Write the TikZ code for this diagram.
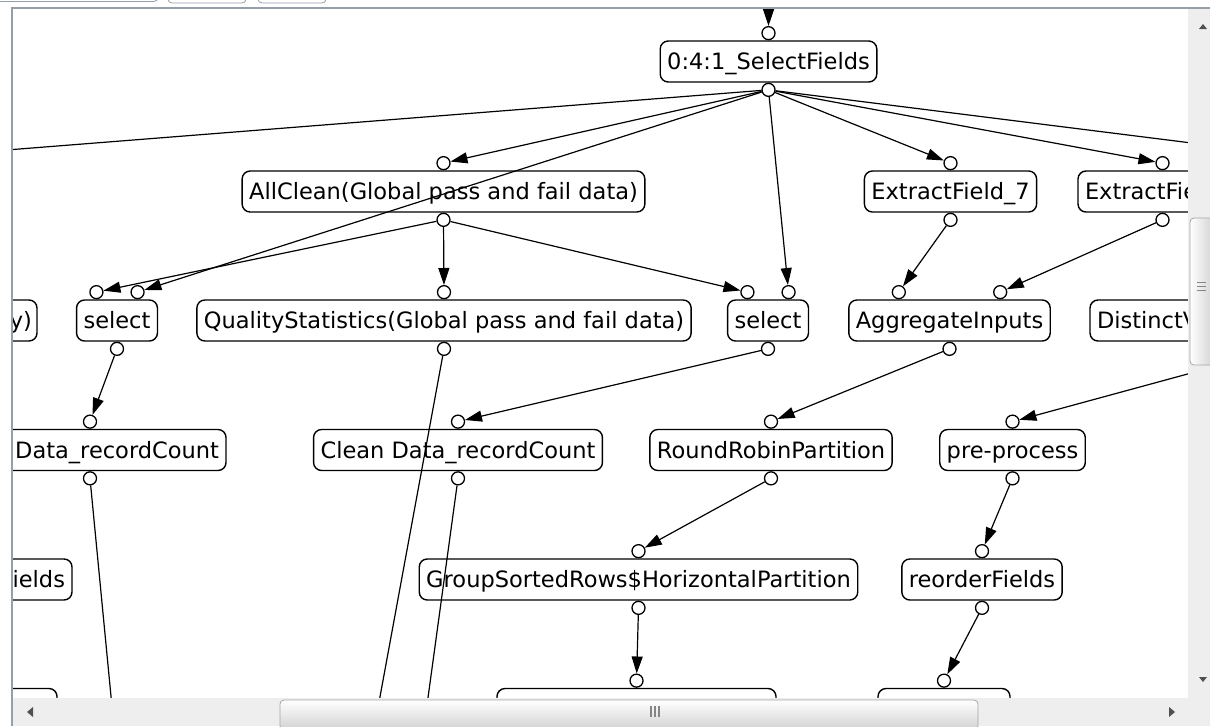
\documentclass[tikz,border=0pt]{standalone}
\usepackage{fontspec}
\setmainfont{DejaVu Sans}
\usetikzlibrary{calc,arrows.meta}

\definecolor{paneframe}{RGB}{150,158,168}
\definecolor{scrolltrack}{RGB}{238,238,238}
\definecolor{thumbline}{RGB}{165,165,165}
\definecolor{scrollarrow}{RGB}{80,80,80}

\tikzset{
	box/.style={draw, rounded corners=4bp, line width=0.7bp, fill=white, minimum height=20.5bp, inner xsep=3.5bp, inner ysep=0pt, text height=8.25bp, text depth=0pt, font=\fontsize{11.3}{13}\selectfont},
	port/.style={draw, circle, fill=white, line width=0.65bp, inner sep=0pt, minimum size=6.5bp},
	flow/.style={line width=0.6bp, -{Triangle[length=8.5bp,width=5.5bp]}}
}

\begin{document}
\begin{tikzpicture}[x=0.5bp, y=-0.5bp]
			%%%%% START %%%%%
			\useasboundingbox (0,0) rectangle (1210,726);
			\clip (0,0) rectangle (1210,726);
			\fill[white] (0,0) rectangle (1210,726);
			
			% toolbar bits above the pane
			\draw[paneframe, rounded corners=2bp] (-5,-20) rectangle (158,1.5);
			\draw[paneframe, rounded corners=2bp] (168,-20) rectangle (246,3);
			\draw[paneframe, rounded corners=2bp] (258,-20) rectangle (326,3);
			
			\begin{scope}
			\clip (12,8) rectangle (1188,698);
			
			% row 1
			\node[box] (sel) at (768.5,61.5) {0:4:1\_SelectFields};
			
			% row 2
			\node[box] (allc) at (443.5,191.5) {AllClean(Global pass and fail data)};
			\node[box] (ext7) at (950.5,191.5) {ExtractField\_7};
			\node[box, text width=77.5bp, align=left] (extb) at (1162.5,191.5) {ExtractFie};
			
			% row 3
			\node[box, text width=95bp, inner xsep=2.5bp, align=right] (keyb) at (-63,320.5) {ey)};
			\node[box] (selA) at (117,320.5) {select};
			\node[box] (qual) at (444,320.5) {QualityStatistics(Global pass and fail data)};
			\node[box] (selB) at (768,320.5) {select};
			\node[box] (aggr) at (949.5,320.5) {AggregateInputs};
			\node[box, text width=183bp, align=left] (dist) at (1280,320.5) {DistinctV};
			
			% row 4
			\node[box, text width=129bp, align=right] (rcA) at (90,450) {Data\_recordCount};
			\node[box] (rcB) at (458,450) {Clean Data\_recordCount};
			\node[box] (rrp) at (771,450) {RoundRobinPartition};
			\node[box] (prep) at (1012.5,450) {pre-process};
			
			% row 5
			\node[box, text width=93bp, align=right] (fldA) at (-28,579.5) {ields};
			\node[box] (gsr) at (638.5,579.5) {GroupSortedRows\$HorizontalPartition};
			\node[box] (reord) at (982,579.5) {reorderFields};
			
			% row 6
			\node[box, minimum width=100bp] (botA) at (-43,709) {};
			\node[box, minimum width=139.5bp] (botB) at (636.5,709) {};
			\node[box, minimum width=66bp] (botC) at (944,709) {};
			
			% ports
			\foreach \n in {sel,allc,ext7,extb,qual,rcA,rcB,rrp,prep,gsr,reord,dist} {
				\node[port, anchor=south] (\n-in) at (\n.north) {};
				\node[port, anchor=north] (\n-out) at (\n.south) {};
			}
			\foreach \n in {selA,selB,aggr} {
				\node[port, anchor=south] (\n-in1) at ($(\n.north west)!0.25!(\n.north east)$) {};
				\node[port, anchor=south] (\n-in2) at ($(\n.north west)!0.75!(\n.north east)$) {};
				\node[port, anchor=north] (\n-out) at (\n.south) {};
			}
			\foreach \n in {botB,botC}
				\node[port, anchor=south] (\n-in) at (\n.north) {};
			
			% ends that lie outside the pane
			\coordinate (feed) at (768.5,-40);
			\coordinate (offW) at (-424,184);
			\coordinate (offE) at (1518,184);
			\coordinate (qualEnd) at (361,800);
			\coordinate (rcBEnd) at (414,800);
			\coordinate (rcAEnd) at (121,800);
			
			% edges
			\draw[flow] (feed) -- (sel-in);
			\draw[flow] (sel-out) -- (offW);
			\draw[flow] (sel-out) -- (offE);
			\draw[flow] (sel-out) -- (allc-in);
			\draw[flow] (sel-out) -- (selA-in2);
			\draw[flow] (sel-out) -- (selB-in2);
			\draw[flow] (sel-out) -- (ext7-in);
			\draw[flow] (sel-out) -- (extb-in);
			
			\draw[flow] (allc-out) -- (selA-in1);
			\draw[flow] (allc-out) -- (qual-in);
			\draw[flow] (allc-out) -- (selB-in1);
			\draw[flow] (ext7-out) -- (aggr-in1);
			\draw[flow] (extb-out) -- (aggr-in2);
			
			\draw[flow] (selA-out) -- (rcA-in);
			\draw[flow] (selB-out) -- (rcB-in);
			\draw[flow] (qual-out) -- (qualEnd);
			\draw[flow] (aggr-out) -- (rrp-in);
			\draw[flow] (dist-out) -- (prep-in);
			
			\draw[flow] (rcA-out) -- (rcAEnd);
			\draw[flow] (rcB-out) -- (rcBEnd);
			\draw[flow] (rrp-out) -- (gsr-in);
			\draw[flow] (prep-out) -- (reord-in);
			
			\draw[flow] (gsr-out) -- (botB-in);
			\draw[flow] (reord-out) -- (botC-in);
			\end{scope}
			
			% vertical scroll bar
			\fill[scrolltrack] (1188,8) rectangle (1210,698);
			\draw[thumbline, rounded corners=2bp, left color=white, right color=black!18] (1190,218) rectangle (1214,365);
			\foreach \gy in {282,286,290}
				\draw[scrollarrow!70, line width=0.5bp] (1197,\gy) -- (1206,\gy);
			\fill[scrollarrow] (1199,29) -- (1207,29) -- (1203,24) -- cycle;
			\fill[scrollarrow] (1199,677) -- (1207,677) -- (1203,682) -- cycle;
			
			% horizontal scroll bar
			\fill[scrolltrack] (12,698) rectangle (1210,726);
			\draw[thumbline, rounded corners=2bp, top color=white, bottom color=black!18] (280,700) rectangle (978,730);
			\foreach \gx in {651,655,659}
				\draw[scrollarrow!70, line width=0.6bp] (\gx,706) -- (\gx,717);
			\fill[scrollarrow] (33,707) -- (33,717) -- (27,712) -- cycle;
			\fill[scrollarrow] (1169,707) -- (1169,717) -- (1175,712) -- cycle;
			
			% pane frame
			\draw[paneframe, line width=1.2bp] (12,726) -- (12,8) -- (1210,8);
			%%%%% END %%%%%
\end{tikzpicture}
\end{document}
